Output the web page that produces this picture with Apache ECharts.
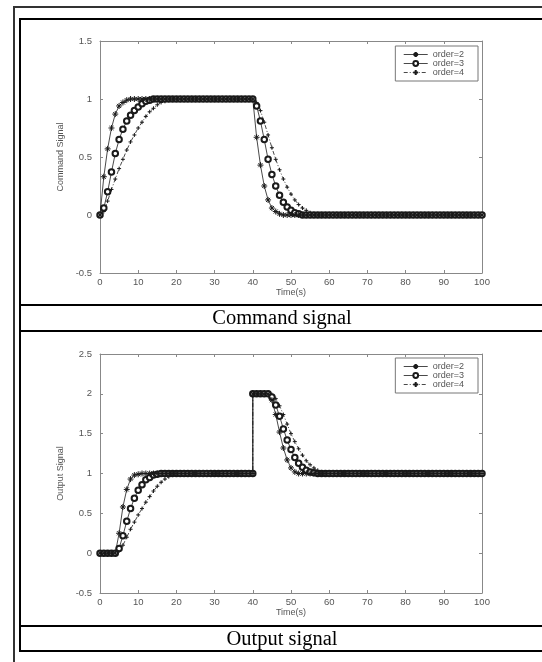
<!DOCTYPE html>
<html>
<head>
<meta charset="utf-8">
<script src="https://cdn.jsdelivr.net/npm/echarts/dist/echarts.min.js"></script>
<style>
  html,body{margin:0;padding:0;background:#fff;}
  body{width:542px;height:662px;position:relative;overflow:hidden;}
  .ln{position:absolute;background:#000;}
  .cap{position:absolute;left:20px;width:524px;text-align:center;font-family:"Liberation Serif","Times New Roman",serif;font-size:20.5px;color:#000;}
  #chart{position:absolute;left:0;top:0;width:542px;height:662px;}
</style>
</head>
<body>
<div id="chart"></div>
<!-- outer frame -->
<div class="ln" style="left:13px;top:6px;width:2px;height:660px;background:#333"></div>
<div class="ln" style="left:13px;top:6px;width:530px;height:2px;background:#333"></div>
<!-- table frame -->
<div class="ln" style="left:19px;top:18px;width:2px;height:634px"></div>
<div class="ln" style="left:19px;top:18px;width:524px;height:2px"></div>
<div class="ln" style="left:19px;top:304px;width:524px;height:2px"></div>
<div class="ln" style="left:19px;top:330px;width:524px;height:2px"></div>
<div class="ln" style="left:19px;top:625px;width:524px;height:2px"></div>
<div class="ln" style="left:19px;top:650px;width:524px;height:2px"></div>
<div class="cap" style="top:305px;line-height:25px;">Command signal</div>
<div class="cap" style="top:626px;line-height:24px;">Output signal</div>
<script>
// ---- data ----
const seriesNames = ['order=2', 'order=3', 'order=4'];
const xTicks = [0, 10, 20, 30, 40, 50, 60, 70, 80, 90, 100];
const yTicksCmd = [-0.5, 0, 0.5, 1, 1.5];
const yTicksOut = [-0.5, 0, 0.5, 1, 1.5, 2, 2.5];

const T1 = [0,1,2,3,4,5,6,7,8,9,
  10,11,12,13,14,15,16,17,18,19,
  20,21,22,23,24,25,26,27,28,29,
  30,31,32,33,34,35,36,37,38,39,
  40,41,42,43,44,45,46,47,48,49,
  50,51,52,53,54,55,56,57,58,59,
  60,61,62,63,64,65,66,67,68,69,
  70,71,72,73,74,75,76,77,78,79,
  80,81,82,83,84,85,86,87,88,89,
  90,91,92,93,94,95,96,97,98,99,
  100];

const cmd2 = [0,0.33,0.57,0.75,0.87,0.94,0.97,0.99,1,1,
  1,1,1,1,1,1,1,1,1,1,
  1,1,1,1,1,1,1,1,1,1,
  1,1,1,1,1,1,1,1,1,1,
  1,0.67,0.43,0.25,0.13,0.06,0.03,0.01,0,0,
  0,0,0,0,0,0,0,0,0,0,
  0,0,0,0,0,0,0,0,0,0,
  0,0,0,0,0,0,0,0,0,0,
  0,0,0,0,0,0,0,0,0,0,
  0,0,0,0,0,0,0,0,0,0,
  0];
const cmd3 = [0,0.06,0.2,0.37,0.53,0.65,0.74,0.81,0.86,0.9,
  0.93,0.96,0.98,0.99,1,1,1,1,1,1,
  1,1,1,1,1,1,1,1,1,1,
  1,1,1,1,1,1,1,1,1,1,
  1,0.94,0.81,0.65,0.48,0.35,0.25,0.17,0.11,0.07,
  0.04,0.02,0.01,0,0,0,0,0,0,0,
  0,0,0,0,0,0,0,0,0,0,
  0,0,0,0,0,0,0,0,0,0,
  0,0,0,0,0,0,0,0,0,0,
  0,0,0,0,0,0,0,0,0,0,
  0];
const cmd4 = [0,0.03,0.12,0.22,0.31,0.4,0.48,0.56,0.63,0.69,
  0.75,0.8,0.85,0.89,0.92,0.95,0.97,0.98,0.99,1,
  1,1,1,1,1,1,1,1,1,1,
  1,1,1,1,1,1,1,1,1,1,
  1,0.97,0.9,0.8,0.69,0.58,0.48,0.39,0.31,0.24,
  0.18,0.13,0.09,0.06,0.04,0.02,0.01,0,0,0,
  0,0,0,0,0,0,0,0,0,0,
  0,0,0,0,0,0,0,0,0,0,
  0,0,0,0,0,0,0,0,0,0,
  0,0,0,0,0,0,0,0,0,0,
  0];

const T2 = [0,1,2,3,4,5,6,7,8,9,
  10,11,12,13,14,15,16,17,18,19,
  20,21,22,23,24,25,26,27,28,29,
  30,31,32,33,34,35,36,37,38,39,
  40,40,41,42,43,44,45,46,47,48,49,
  50,51,52,53,54,55,56,57,58,59,
  60,61,62,63,64,65,66,67,68,69,
  70,71,72,73,74,75,76,77,78,79,
  80,81,82,83,84,85,86,87,88,89,
  90,91,92,93,94,95,96,97,98,99,
  100];

const out2 = [0,0,0,0,0,0.25,0.58,0.8,0.93,0.98,
  0.99,1,1,1,1,1,1,1,1,1,
  1,1,1,1,1,1,1,1,1,1,
  1,1,1,1,1,1,1,1,1,1,
  1,2,2,2,2,2,1.92,1.74,1.52,1.32,1.17,
  1.07,1.02,1,1,1,1,1,1,1,1,
  1,1,1,1,1,1,1,1,1,1,
  1,1,1,1,1,1,1,1,1,1,
  1,1,1,1,1,1,1,1,1,1,
  1,1,1,1,1,1,1,1,1,1,
  1];
const out3 = [0,0,0,0,0,0.06,0.22,0.4,0.56,0.69,
  0.79,0.86,0.92,0.95,0.98,0.99,1,1,1,1,
  1,1,1,1,1,1,1,1,1,1,
  1,1,1,1,1,1,1,1,1,1,
  1,2,2,2,2,2,1.96,1.86,1.72,1.56,1.42,
  1.3,1.2,1.13,1.08,1.04,1.02,1.01,1,1,1,
  1,1,1,1,1,1,1,1,1,1,
  1,1,1,1,1,1,1,1,1,1,
  1,1,1,1,1,1,1,1,1,1,
  1,1,1,1,1,1,1,1,1,1,
  1];
const out4 = [0,0,0,0,0,0.03,0.1,0.2,0.3,0.39,
  0.48,0.56,0.64,0.71,0.78,0.84,0.89,0.93,0.96,0.98,
  0.99,1,1,1,1,1,1,1,1,1,
  1,1,1,1,1,1,1,1,1,1,
  1,2,2,2,2,2,1.99,1.94,1.85,1.74,1.62,
  1.5,1.4,1.31,1.23,1.16,1.11,1.07,1.04,1.02,1.01,
  1,1,1,1,1,1,1,1,1,1,
  1,1,1,1,1,1,1,1,1,1,
  1,1,1,1,1,1,1,1,1,1,
  1,1,1,1,1,1,1,1,1,1,
  1];

// ---- build ----
const pairs = (T, V) => T.map((t, i) => [t, V[i]]);
const STAR = 'path://M5 0V10M0 5H10M1.6 1.6L8.4 8.4M8.4 1.6L1.6 8.4';
const PLUS = 'path://M5 0V10M0 5H10';
const styles = [
  {symbol: STAR, symbolSize: 6, line: 'solid', itemStyle: {color: '#1a1a1a', borderColor: '#1a1a1a', borderWidth: 1}},
  {symbol: 'emptyCircle', symbolSize: 5.5, line: 'solid', itemStyle: {color: '#1a1a1a', borderColor: '#1a1a1a', borderWidth: 0.9}},
  {symbol: PLUS, symbolSize: 4, line: [4, 2, 1, 2], itemStyle: {color: '#1a1a1a', borderColor: '#1a1a1a', borderWidth: 1}}
];
const font = '"Liberation Sans", Arial, sans-serif';
const axisCol = '#888';
const labCol = '#555';

function xAx(grid, top) {
  return {
    type: 'value', gridIndex: grid, position: top ? 'top' : 'bottom',
    min: xTicks[0], max: xTicks[xTicks.length - 1], interval: xTicks[1] - xTicks[0],
    axisLine: {show: true, onZero: false, lineStyle: {color: axisCol, width: 1}},
    axisTick: {show: true, inside: true, length: 3, lineStyle: {color: axisCol}},
    axisLabel: {show: !top, color: labCol, fontSize: 9.5, fontFamily: font, margin: 4},
    splitLine: {show: false},
    name: top ? '' : 'Time(s)', nameLocation: 'middle', nameGap: 15,
    nameTextStyle: {color: labCol, fontSize: 9, fontFamily: font}
  };
}
function yAx(grid, right, ticks, name) {
  return {
    type: 'value', gridIndex: grid, position: right ? 'right' : 'left',
    min: ticks[0], max: ticks[ticks.length - 1], interval: ticks[1] - ticks[0],
    axisLine: {show: true, onZero: false, lineStyle: {color: axisCol, width: 1}},
    axisTick: {show: true, inside: true, length: 3, lineStyle: {color: axisCol}},
    axisLabel: {show: !right, color: labCol, fontSize: 9.5, fontFamily: font, margin: 8},
    splitLine: {show: false},
    name: right ? '' : name, nameLocation: 'middle', nameGap: 30, nameRotate: 90,
    nameTextStyle: {color: labCol, fontSize: 9, fontFamily: font}
  };
}
function mkSeries(T, arrs, xi, yi) {
  return arrs.map((V, k) => ({
    type: 'line', name: seriesNames[k], xAxisIndex: xi, yAxisIndex: yi,
    data: pairs(T, V), symbol: styles[k].symbol, symbolSize: styles[k].symbolSize,
    showSymbol: true, showAllSymbol: true,
    lineStyle: {color: '#1a1a1a', width: 0.8, type: styles[k].line},
    itemStyle: styles[k].itemStyle, z: 5 - k, animation: false
  }));
}
function legend(top) {
  return {
    data: seriesNames, orient: 'vertical', right: 64, top: top,
    backgroundColor: '#fff', borderColor: '#777', borderWidth: 1, borderRadius: 0,
    padding: [4, 14, 4, 8], itemGap: 0, itemWidth: 24, itemHeight: 6,
    lineStyle: {width: 0.8},
    textStyle: {color: labCol, fontSize: 9, fontFamily: font}, selectedMode: false
  };
}

const chart = echarts.init(document.getElementById('chart'), null, {renderer: 'canvas'});
chart.setOption({
  animation: false,
  backgroundColor: 'transparent',
  grid: [
    {left: 100, top: 41, width: 382, height: 232},
    {left: 100, top: 354, width: 382, height: 239}
  ],
  xAxis: [xAx(0, false), xAx(0, true), xAx(1, false), xAx(1, true)],
  yAxis: [yAx(0, false, yTicksCmd, 'Command Signal'), yAx(0, true, yTicksCmd, ''),
          yAx(1, false, yTicksOut, 'Output Signal'), yAx(1, true, yTicksOut, '')],
  legend: [legend(46), legend(358)],
  series: [].concat(mkSeries(T1, [cmd2, cmd3, cmd4], 0, 0), mkSeries(T2, [out2, out3, out4], 2, 2))
});
</script>
</body>
</html>
